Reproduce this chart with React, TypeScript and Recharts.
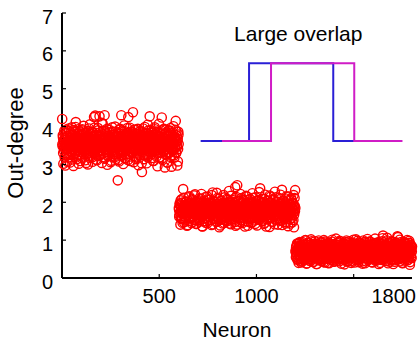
import React from "react";
import { ReferenceDot, Scatter, ScatterChart, XAxis, YAxis } from "recharts";

// 1800 neurons in three blocks of 600; values listed for odd and even neurons separately
const blockStarts = [1, 601, 1201];

const block1Odd = [
  4.20, 3.48, 3.71, 3.02, 3.59, 3.36, 3.84, 3.51, 2.97, 3.66, 3.43, 3.92, 3.55, 3.28, 3.74,
  3.61, 3.19, 3.88, 3.47, 3.57, 3.05, 3.79, 3.40, 3.63, 3.33, 3.98, 3.52, 3.24, 3.69, 2.96,
  3.58, 3.45, 3.86, 3.31, 3.67, 4.12, 3.50, 3.14, 3.73, 3.42, 3.60, 3.93, 3.26, 3.54, 3.81,
  3.37, 3.65, 3.09, 3.77, 3.49, 3.56, 3.90, 3.21, 3.62, 3.44, 4.02, 3.35, 3.70, 3.53, 3.11,
  3.83, 3.46, 3.64, 3.29, 3.75, 3.52, 3.00, 3.68, 3.39, 3.95, 3.57, 3.17, 3.80, 3.48, 3.61,
  3.34, 3.87, 3.55, 3.07, 3.72, 3.43, 3.66, 4.25, 3.30, 3.59, 4.29, 3.50, 3.13, 3.78, 3.41,
  3.63, 3.22, 3.96, 3.54, 3.38, 3.74, 4.27, 3.47, 3.85, 3.26, 3.58, 3.69, 3.04, 3.51, 4.08,
  3.36, 3.62, 3.89, 3.45, 4.30, 3.18, 3.71, 3.55, 3.32, 3.82, 3.49, 2.99, 3.67, 3.40, 3.76,
  3.57, 3.25, 3.91, 3.53, 3.44, 3.70, 3.10, 3.64, 3.37, 3.86, 3.52, 3.20, 3.79, 3.46, 3.60,
  3.33, 4.00, 3.56, 3.15, 3.73, 3.42, 3.65, 3.28, 2.58, 3.84, 3.50, 3.08, 3.68, 3.39, 3.94,
  3.54, 3.23, 4.30, 3.47, 3.62, 3.35, 3.77, 3.01, 3.58, 3.44, 3.88, 3.51, 3.16, 3.71, 3.40,
  3.66, 3.27, 3.83, 3.55, 3.12, 4.25, 3.48, 3.74, 3.36, 3.97, 3.53, 3.21, 3.69, 3.43, 3.61,
  3.30, 3.85, 4.38, 3.49, 3.06, 3.76, 3.57, 3.38, 3.92, 3.45, 3.63, 3.18, 3.80, 3.52, 3.34,
  3.70, 2.98, 3.59, 3.41, 3.87, 3.54, 3.24, 3.67, 3.46, 3.78, 2.80, 3.60, 3.32, 3.95, 3.50,
  3.14, 3.73, 3.44, 3.64, 3.29, 3.82, 3.56, 3.03, 3.69, 3.40, 4.05, 3.53, 3.22, 3.75, 3.47,
  4.27, 3.35, 3.61, 3.90, 3.48, 3.17, 3.72, 3.55, 3.37, 3.84, 3.09, 3.63, 3.45, 3.98, 3.52,
  3.26, 3.68, 3.42, 3.79, 3.58, 2.95, 3.65, 3.39, 3.86, 3.50, 3.19, 3.74, 3.44, 3.60, 3.31,
  3.89, 4.24, 3.47, 3.12, 3.71, 3.56, 3.36, 3.94, 3.53, 2.92, 3.66, 3.41, 3.81, 3.49, 3.27,
  3.62, 3.05, 3.76, 3.45, 3.58, 3.90, 3.33, 3.67, 3.20, 3.84, 3.51, 2.94, 3.70, 3.43, 3.59,
  3.38, 4.01, 3.55, 3.24, 3.73, 3.47, 3.64, 4.15, 3.30, 3.87, 3.52, 2.97, 3.68, 3.41, 3.79,
];
const block1Even = [
  3.53, 3.77, 3.30, 3.64, 3.45, 3.89, 3.18, 3.70, 3.56, 3.39, 3.82, 3.49, 3.61, 3.07, 3.74,
  3.42, 3.95, 3.58, 3.25, 3.68, 3.51, 3.85, 3.34, 3.63, 3.47, 3.13, 3.78, 3.55, 3.40, 3.91,
  3.60, 3.28, 3.72, 3.49, 3.99, 3.36, 3.66, 3.54, 3.21, 3.81, 3.44, 3.69, 3.02, 3.57, 3.87,
  3.46, 3.62, 3.33, 3.76, 3.52, 3.16, 3.93, 3.41, 3.67, 3.58, 3.27, 3.84, 3.50, 3.71, 3.38,
  3.65, 3.04, 3.79, 3.48, 3.59, 3.31, 3.88, 3.55, 3.22, 3.73, 3.44, 4.06, 3.61, 3.35, 3.69,
  3.52, 3.86, 3.19, 3.63, 3.47, 3.75, 3.39, 3.97, 3.56, 3.26, 3.70, 3.43, 3.83, 3.58, 3.11,
  3.66, 3.49, 3.90, 3.32, 3.60, 3.54, 3.24, 3.77, 3.45, 3.68, 3.37, 4.10, 3.53, 3.62, 3.29,
  3.80, 3.46, 3.71, 3.15, 3.57, 3.88, 3.41, 3.64, 3.50, 3.33, 3.94, 3.59, 3.23, 3.74, 3.48,
  3.67, 3.36, 3.85, 3.55, 3.06, 3.72, 3.44, 3.61, 3.98, 3.39, 3.52, 3.27, 3.78, 3.57, 3.45,
  3.69, 3.20, 3.87, 3.50, 3.63, 3.34, 3.81, 3.47, 3.58, 3.12, 3.75, 3.42, 3.92, 3.56, 3.30,
  3.64, 3.48, 3.73, 3.25, 3.89, 3.53, 3.38, 3.68, 3.44, 4.03, 3.60, 3.17, 3.79, 3.51, 3.35,
  3.71, 3.46, 3.96, 3.57, 3.28, 3.65, 3.40, 3.84, 3.54, 3.09, 3.76, 3.49, 3.62, 3.32, 3.86,
  3.43, 3.70, 3.55, 3.22, 3.91, 3.47, 3.66, 3.37, 3.80, 3.59, 3.14, 3.73, 3.50, 3.42, 3.94,
  3.61, 3.29, 3.77, 3.52, 3.68, 3.36, 3.88, 3.45, 3.63, 3.03, 3.74, 3.56, 3.40, 3.83, 3.48,
  3.65, 3.24, 3.99, 3.53, 3.39, 3.71, 3.46, 3.82, 3.58, 3.19, 3.67, 3.43, 3.90, 3.55, 3.33,
  3.76, 3.50, 3.62, 3.27, 3.85, 3.44, 3.69, 3.57, 3.10, 3.78, 3.41, 3.64, 3.35, 3.93, 3.52,
  3.47, 3.72, 3.21, 3.87, 3.60, 3.38, 3.66, 3.54, 4.07, 3.45, 3.75, 3.31, 3.58, 3.81, 3.49,
  3.63, 3.16, 3.70, 3.43, 3.92, 3.56, 3.34, 3.79, 3.51, 3.67, 3.26, 3.84, 3.46, 3.61, 3.05,
  3.74, 3.53, 3.40, 3.89, 3.57, 3.30, 3.68, 3.48, 3.96, 3.42, 3.65, 3.23, 3.77, 3.55, 3.37,
  3.83, 3.50, 3.64, 3.18, 3.71, 3.45, 3.91, 3.59, 3.32, 3.76, 3.47, 3.62, 3.08, 3.86, 3.54,
];

const block2Odd = [
  1.85, 1.62, 1.97, 1.74, 1.41, 1.90, 1.79, 2.08, 1.55, 1.83, 1.69, 2.35, 1.88, 1.47, 1.76,
  1.93, 1.81, 1.58, 2.02, 1.72, 1.86, 1.38, 1.95, 1.66, 1.80, 2.13, 1.51, 1.87, 1.73, 1.99,
  1.64, 1.84, 1.45, 1.92, 1.78, 2.05, 1.60, 1.82, 1.70, 2.18, 1.53, 1.89, 1.75, 1.96, 1.43,
  1.80, 1.67, 2.00, 1.84, 1.57, 1.91, 1.77, 2.10, 1.49, 1.86, 1.71, 1.98, 1.63, 2.22, 1.79,
  1.88, 1.36, 1.83, 1.68, 2.04, 1.74, 1.94, 1.59, 1.85, 1.46, 1.97, 1.81, 1.65, 2.15, 1.76,
  1.90, 1.52, 1.84, 1.72, 2.07, 1.61, 1.87, 1.78, 1.99, 1.40, 1.82, 1.69, 2.26, 1.75, 1.93,
  1.56, 1.86, 1.73, 2.01, 1.64, 1.89, 1.48, 1.80, 1.95, 1.70, 2.12, 1.58, 1.84, 1.77, 1.34,
  1.91, 1.67, 2.03, 1.82, 1.54, 1.96, 1.74, 1.88, 1.44, 1.79, 2.19, 1.62, 1.85, 1.71, 1.98,
  1.60, 1.87, 1.76, 2.09, 1.50, 1.83, 1.69, 1.94, 1.81, 2.30, 1.57, 1.86, 1.73, 2.00, 1.42,
  1.89, 1.66, 1.80, 2.06, 1.75, 1.92, 1.55, 1.84, 1.70, 1.97, 2.40, 1.38, 1.78, 2.14, 1.63,
  2.45, 1.85, 1.72, 2.02, 1.59, 1.88, 1.77, 1.95, 1.47, 1.82, 1.68, 2.11, 1.74, 1.90, 1.53,
  1.86, 1.79, 2.04, 1.65, 1.93, 1.36, 1.81, 1.71, 2.17, 1.60, 1.87, 1.76, 1.99, 1.49, 1.84,
  1.70, 2.08, 1.62, 1.89, 1.78, 1.96, 1.45, 1.83, 1.73, 2.24, 1.57, 1.91, 1.67, 1.80, 2.01,
  1.52, 1.86, 1.75, 2.13, 1.64, 1.88, 1.39, 1.94, 1.80, 1.69, 2.05, 1.58, 1.85, 1.74, 2.37,
  1.82, 1.61, 1.97, 1.72, 2.09, 1.50, 1.87, 1.77, 1.92, 1.43, 1.84, 1.68, 2.20, 1.76, 1.90,
  1.55, 1.83, 1.71, 2.03, 1.66, 1.89, 1.79, 1.98, 1.35, 1.81, 1.74, 2.15, 1.60, 1.86, 1.70,
  1.95, 1.48, 1.82, 2.07, 1.73, 1.88, 1.63, 2.28, 1.78, 1.92, 1.54, 1.85, 1.69, 2.01, 1.76,
  1.41, 1.90, 1.80, 2.11, 1.65, 1.87, 1.72, 1.96, 1.51, 1.83, 2.33, 1.67, 1.89, 1.77, 2.04,
  1.59, 1.84, 1.70, 1.99, 1.44, 1.86, 1.75, 2.16, 1.62, 1.91, 1.78, 1.37, 1.82, 2.06, 1.71,
  1.88, 1.56, 1.94, 1.79, 2.10, 1.66, 1.85, 1.47, 1.98, 1.73, 2.19, 1.34, 1.81, 1.90, 2.32,
];
const block2Even = [
  1.80, 1.67, 1.94, 1.73, 2.05, 1.58, 1.87, 1.76, 1.99, 1.46, 1.84, 1.70, 2.12, 1.63, 1.89,
  1.77, 1.52, 1.92, 1.81, 2.01, 1.65, 1.86, 1.40, 1.79, 1.97, 1.72, 2.16, 1.57, 1.83, 1.74,
  1.91, 1.61, 1.85, 1.69, 2.08, 1.48, 1.88, 1.78, 1.95, 1.55, 1.82, 2.21, 1.66, 1.90, 1.75,
  1.43, 1.87, 1.71, 2.03, 1.60, 1.84, 1.79, 1.98, 1.53, 1.89, 1.68, 2.10, 1.74, 1.93, 1.37,
  1.81, 1.64, 2.00, 1.77, 1.86, 1.50, 1.92, 1.72, 2.14, 1.59, 1.85, 1.80, 1.96, 1.45, 1.83,
  1.70, 2.06, 1.62, 1.88, 1.76, 1.99, 1.54, 1.84, 1.67, 2.19, 1.73, 1.90, 1.42, 1.82, 1.78,
  2.02, 1.57, 1.87, 1.71, 1.95, 1.63, 1.86, 2.25, 1.49, 1.80, 1.74, 2.09, 1.60, 1.91, 1.68,
  1.85, 1.39, 1.94, 1.77, 2.04, 1.56, 1.83, 1.72, 1.98, 1.64, 1.89, 1.46, 2.13, 1.75, 1.81,
  1.69, 1.93, 1.52, 1.87, 1.79, 2.07, 1.61, 1.84, 1.73, 1.97, 1.44, 1.90, 1.66, 2.17, 1.78,
  1.55, 1.86, 1.71, 2.01, 1.63, 1.88, 1.80, 1.94, 1.48, 1.82, 2.11, 1.68, 1.92, 1.75, 1.41,
  1.89, 1.62, 2.03, 1.76, 1.85, 1.58, 1.95, 1.70, 2.22, 1.53, 1.87, 1.79, 1.99, 1.45, 1.83,
  1.74, 2.06, 1.65, 1.90, 1.72, 1.96, 1.50, 1.84, 1.67, 2.15, 1.77, 1.88, 1.38, 1.81, 1.93,
  1.60, 1.86, 1.73, 2.08, 1.57, 1.89, 1.78, 2.00, 1.47, 1.85, 1.69, 2.12, 1.64, 1.91, 1.76,
  1.82, 1.43, 1.97, 1.71, 2.04, 1.59, 1.87, 1.75, 1.94, 1.54, 1.83, 2.27, 1.66, 1.90, 1.80,
  1.68, 2.02, 1.51, 1.86, 1.77, 1.98, 1.62, 1.84, 1.70, 2.09, 1.46, 1.92, 1.74, 1.88, 1.36,
  1.85, 1.65, 2.05, 1.79, 1.93, 1.56, 1.81, 1.72, 2.18, 1.60, 1.89, 1.76, 1.99, 1.49, 1.84,
  1.71, 2.07, 1.63, 1.87, 1.78, 1.95, 1.42, 1.90, 1.67, 2.13, 1.74, 1.86, 1.55, 2.01, 1.80,
  1.58, 1.88, 1.73, 1.96, 1.52, 1.83, 2.20, 1.69, 1.91, 1.77, 1.40, 1.85, 1.64, 2.03, 1.75,
  1.92, 1.61, 1.86, 1.79, 2.10, 1.48, 1.84, 1.70, 1.97, 1.57, 1.89, 1.72, 2.15, 1.66, 1.82,
  1.78, 1.44, 1.94, 1.74, 2.06, 1.59, 1.87, 1.81, 1.99, 1.53, 1.90, 1.68, 2.11, 1.76, 1.85,
];

const block3Odd = [
  0.72, 0.55, 0.84, 0.63, 0.91, 0.48, 0.77, 0.68, 0.40, 0.81, 0.59, 0.95, 0.70, 0.52, 0.86,
  0.65, 0.79, 0.44, 0.73, 0.61, 0.89, 0.57, 0.75, 0.66, 0.99, 0.50, 0.82, 0.69, 0.38, 0.78,
  0.62, 0.87, 0.54, 0.71, 0.93, 0.46, 0.76, 0.64, 0.83, 0.58, 1.02, 0.67, 0.49, 0.80, 0.60,
  0.74, 0.42, 0.88, 0.56, 0.70, 0.97, 0.53, 0.79, 0.65, 0.85, 0.37, 0.72, 0.61, 0.90, 0.47,
  0.77, 0.63, 0.83, 0.51, 0.94, 0.68, 0.58, 0.81, 0.45, 0.73, 0.66, 0.87, 0.55, 1.00, 0.62,
  0.79, 0.41, 0.70, 0.86, 0.57, 0.75, 0.64, 0.92, 0.50, 0.80, 0.68, 0.39, 0.84, 0.60, 0.76,
  0.53, 0.89, 0.67, 0.74, 0.96, 0.48, 0.82, 0.63, 0.71, 0.43, 0.85, 0.59, 0.78, 0.66, 1.04,
  0.56, 0.73, 0.88, 0.52, 0.69, 0.81, 0.61, 0.94, 0.44, 0.77, 0.97, 0.65, 0.84, 0.54, 0.72,
  0.60, 0.86, 0.49, 0.78, 0.67, 0.91, 0.36, 0.74, 0.58, 0.83, 0.63, 0.99, 0.51, 0.80, 0.70,
  0.45, 0.87, 0.62, 0.76, 0.55, 0.93, 0.68, 0.82, 0.40, 0.73, 0.64, 0.89, 0.57, 0.79, 1.01,
  0.53, 0.71, 0.85, 0.60, 0.77, 0.47, 0.90, 0.66, 0.81, 0.98, 0.56, 0.74, 0.42, 0.86, 0.63,
  0.78, 0.50, 0.92, 0.69, 0.58, 0.84, 0.65, 0.38, 0.75, 0.87, 0.61, 0.72, 0.95, 0.54, 0.80,
  0.67, 0.44, 0.83, 0.59, 0.76, 1.03, 0.63, 0.88, 0.49, 0.71, 0.82, 0.57, 0.96, 0.68, 0.52,
  0.85, 0.62, 0.74, 0.41, 0.90, 0.66, 0.79, 0.55, 0.87, 0.70, 0.46, 0.81, 0.64, 0.93, 0.58,
  0.77, 0.51, 0.86, 0.69, 0.37, 0.75, 0.60, 0.91, 0.65, 0.83, 0.48, 0.72, 0.97, 0.56, 1.05,
  1.12, 0.64, 0.80, 0.53, 0.88, 0.71, 0.45, 0.84, 0.62, 0.76, 0.99, 0.57, 0.73, 0.39, 0.86,
  0.68, 0.92, 0.55, 0.79, 0.63, 0.85, 0.47, 0.74, 0.96, 0.60, 0.82, 0.50, 0.70, 0.89, 0.65,
  0.43, 0.78, 0.61, 0.94, 0.54, 0.81, 0.67, 1.10, 0.72, 0.49, 0.87, 0.58, 0.76, 1.01, 0.63,
  0.84, 0.52, 0.69, 0.91, 0.40, 0.77, 0.64, 0.86, 0.59, 0.95, 0.71, 0.46, 0.82, 0.66, 0.90,
  0.56, 0.74, 1.00, 0.61, 0.85, 0.48, 0.79, 0.68, 0.93, 0.35, 0.73, 0.88, 0.57, 0.81, 0.70,
];
const block3Even = [
  0.68, 0.81, 0.57, 0.74, 0.89, 0.50, 0.77, 0.63, 0.92, 0.46, 0.71, 0.85, 0.60, 0.79, 0.41,
  0.73, 0.66, 0.95, 0.55, 0.82, 0.69, 0.48, 0.87, 0.62, 0.76, 1.00, 0.53, 0.80, 0.67, 0.39,
  0.84, 0.59, 0.72, 0.93, 0.51, 0.78, 0.64, 0.88, 0.45, 0.75, 0.61, 0.97, 0.56, 0.83, 0.70,
  0.43, 0.86, 0.65, 0.79, 0.54, 0.91, 0.68, 0.74, 0.37, 0.81, 0.60, 0.89, 0.52, 0.77, 0.99,
  0.63, 0.72, 0.47, 0.85, 0.58, 0.80, 0.69, 0.94, 0.50, 0.76, 0.64, 0.88, 0.42, 0.73, 0.83,
  0.57, 0.96, 0.66, 0.79, 0.53, 0.87, 0.61, 0.75, 0.40, 0.82, 0.70, 0.92, 0.55, 0.78, 0.65,
  0.49, 0.86, 0.62, 0.74, 1.01, 0.58, 0.81, 0.68, 0.44, 0.90, 0.63, 0.77, 0.52, 0.84, 0.71,
  0.60, 0.93, 0.46, 0.79, 0.66, 0.87, 0.56, 0.73, 0.98, 0.51, 0.82, 0.64, 0.38, 0.76, 0.69,
  0.85, 0.54, 0.91, 0.61, 0.78, 0.48, 0.88, 0.67, 0.72, 0.95, 0.57, 0.80, 0.43, 0.75, 0.65,
  0.83, 0.59, 0.70, 0.97, 0.52, 0.86, 0.63, 0.77, 0.45, 0.89, 0.68, 0.74, 0.55, 0.92, 0.61,
  0.79, 0.41, 0.84, 0.66, 0.73, 1.02, 0.50, 0.81, 0.64, 0.88, 0.57, 0.76, 0.47, 0.94, 0.69,
  0.62, 0.85, 0.53, 0.78, 0.67, 0.90, 0.44, 0.75, 0.60, 0.99, 0.56, 0.82, 0.71, 0.39, 0.87,
  0.65, 0.77, 0.51, 0.93, 0.63, 0.80, 0.58, 0.86, 0.48, 0.72, 0.96, 0.61, 0.84, 0.54, 0.74,
  0.68, 0.42, 0.89, 0.66, 0.79, 0.55, 0.92, 0.62, 0.75, 1.04, 0.50, 0.83, 0.69, 0.46, 0.78,
  0.60, 0.87, 0.57, 0.73, 0.95, 0.64, 0.81, 0.40, 0.76, 0.67, 0.90, 0.53, 0.85, 0.71, 0.59,
  0.82, 0.49, 0.94, 0.63, 0.77, 0.56, 0.88, 0.68, 0.45, 0.80, 1.06, 0.61, 0.74, 0.52, 0.86,
  0.66, 0.78, 0.43, 0.91, 0.58, 0.75, 0.69, 0.97, 0.54, 0.83, 0.62, 0.37, 0.79, 0.65, 0.89,
  0.57, 0.72, 0.93, 0.48, 0.84, 0.67, 0.76, 0.60, 1.08, 0.51, 0.80, 0.64, 0.87, 0.44, 0.77,
  0.70, 0.95, 0.55, 0.82, 0.63, 0.39, 0.88, 0.66, 0.74, 0.58, 0.91, 0.50, 0.79, 0.68, 0.85,
  0.61, 0.76, 0.47, 0.90, 0.64, 0.81, 0.56, 0.98, 0.69, 0.42, 0.86, 0.62, 0.75, 0.53, 0.83,
];

// inset: two shifted step profiles ("large overlap")
const stepBlueX = [713, 962, 962, 1395, 1395, 1640];
const stepMagentaX = [823, 1075, 1075, 1503, 1503, 1751];
const stepLevels = [3.62, 3.62, 5.67, 5.67, 3.62, 3.62];

const xTicks = [500, 1000, 1500, 1800];
const xTickLabels: Record<number, string> = { 500: "500", 1000: "1000", 1800: "1800" };
const yTicks = [0, 1, 2, 3, 4, 5, 6, 7];

const FONT = "'Liberation Sans', Arial, Helvetica, sans-serif";
const TICK_LEN = 4;

const blocks = [
  [block1Odd, block1Even],
  [block2Odd, block2Even],
  [block3Odd, block3Even],
];
const scatterData = blocks.flatMap(([odd, even], b) => [
  ...odd.map((v, i) => ({ x: blockStarts[b] + 2 * i, y: v })),
  ...even.map((v, i) => ({ x: blockStarts[b] + 1 + 2 * i, y: v })),
]);
const blueData = stepBlueX.map((x, i) => ({ x, y: stepLevels[i] }));
const magentaData = stepMagentaX.map((x, i) => ({ x, y: stepLevels[i] }));

const OpenCircle = (props: any) => {
  const { cx, cy } = props;
  if (cx == null || cy == null) return <g />;
  return <circle cx={cx} cy={cy} r={4.6} fill="none" stroke="#ff0000" strokeWidth={1.4} />;
};

const NoMarker = () => <g />;

const BottomTick = (props: any) => {
  const { x, y, payload } = props;
  const v = payload.value;
  const label = xTickLabels[v];
  return (
    <g>
      {v < 1800 && <line x1={x} y1={y} x2={x} y2={y - TICK_LEN} stroke="#000" strokeWidth={1.2} />}
      {label && (
        <text
          x={v === 1800 ? x + 4 : x}
          y={y + 25}
          textAnchor={v === 1800 ? "end" : "middle"}
          fontSize={20}
          fill="#000"
          fontFamily={FONT}
        >
          {label}
        </text>
      )}
    </g>
  );
};

const TopTick = (props: any) => {
  const { x, y } = props;
  return <line x1={x} y1={y} x2={x} y2={y + TICK_LEN} stroke="#000" strokeWidth={1.2} />;
};

const LeftTick = (props: any) => {
  const { x, y, payload } = props;
  return (
    <g>
      <line x1={x} y1={y} x2={x + TICK_LEN} y2={y} stroke="#000" strokeWidth={1.2} />
      <text x={x - 9} y={y + 10.5} textAnchor="end" fontSize={20} fill="#000" fontFamily={FONT}>
        {payload.value}
      </text>
    </g>
  );
};

const RightTick = (props: any) => {
  const { x, y } = props;
  return <line x1={x} y1={y} x2={x - TICK_LEN} y2={y} stroke="#000" strokeWidth={1.2} />;
};

export default function App() {
  return (
    <div style={{ position: "absolute", left: 0, top: 0, width: 420, height: 340, background: "#fff", fontFamily: FONT }}>
      <ScatterChart width={420} height={340} margin={{ top: 13, right: 8, bottom: 0, left: 0 }}>
        <XAxis
          xAxisId="bottom"
          dataKey="x"
          type="number"
          domain={[0, 1800]}
          ticks={xTicks}
          interval={0}
          height={62}
          tickSize={0}
          tickMargin={0}
          tick={<BottomTick />}
          axisLine={{ stroke: "#000", strokeWidth: 2 }}
        />
        <XAxis
          xAxisId="top"
          orientation="top"
          dataKey="x"
          type="number"
          domain={[0, 1800]}
          ticks={[500, 1000, 1500]}
          interval={0}
          height={0}
          tickSize={0}
          tickMargin={0}
          tick={<TopTick />}
          axisLine={{ stroke: "#000", strokeWidth: 2 }}
        />
        <YAxis
          yAxisId="left"
          dataKey="y"
          type="number"
          domain={[0, 7]}
          ticks={yTicks}
          interval={0}
          width={62}
          tickSize={0}
          tickMargin={0}
          tick={<LeftTick />}
          axisLine={{ stroke: "#000", strokeWidth: 2 }}
          label={{
            content: () => (
              <text
                x={23}
                y={143}
                transform="rotate(-90 23 143)"
                textAnchor="middle"
                fontSize={22}
                fill="#000"
                fontFamily={FONT}
              >
                Out-degree
              </text>
            ),
          }}
        />
        <YAxis
          yAxisId="right"
          orientation="right"
          dataKey="y"
          type="number"
          domain={[0, 7]}
          ticks={[1, 2, 3, 4, 5, 6]}
          interval={0}
          width={0}
          tickSize={0}
          tickMargin={0}
          tick={<RightTick />}
          axisLine={{ stroke: "#000", strokeWidth: 2 }}
        />
        <Scatter
          xAxisId="bottom"
          yAxisId="left"
          data={scatterData}
          shape={<OpenCircle />}
          isAnimationActive={false}
        />
        <Scatter
          xAxisId="bottom"
          yAxisId="left"
          data={blueData}
          line={{ stroke: "#2a1fd6", strokeWidth: 2 }}
          lineJointType="linear"
          shape={<NoMarker />}
          isAnimationActive={false}
        />
        <Scatter
          xAxisId="bottom"
          yAxisId="left"
          data={magentaData}
          line={{ stroke: "#d01cc6", strokeWidth: 2 }}
          lineJointType="linear"
          shape={<NoMarker />}
          isAnimationActive={false}
        />
        <ReferenceDot
          xAxisId="bottom"
          yAxisId="left"
          x={1215}
          y={6.46}
          r={0}
          stroke="none"
          label={{ value: "Large overlap", position: "center", fontSize: 21, fill: "#000", fontFamily: FONT }}
        />
      </ScatterChart>
      <div
        style={{
          position: "absolute",
          left: 0,
          top: 318,
          width: 474,
          textAlign: "center",
          fontSize: 21,
          lineHeight: "24px",
          color: "#000",
        }}
      >
        Neuron
      </div>
    </div>
  );
}
